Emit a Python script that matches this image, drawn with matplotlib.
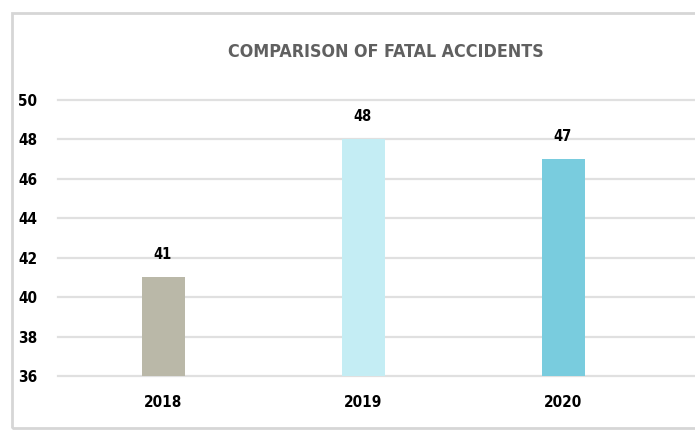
import matplotlib
matplotlib.use("Agg")
import matplotlib.pyplot as plt
from matplotlib.patches import Rectangle

categories = ["2018", "2019", "2020"]
values = [41, 48, 47]
colors = ["#BAB8A8", "#C4EDF4", "#79CCDE"]
yticks = [36, 38, 40, 42, 44, 46, 48, 50]
title = "COMPARISON OF FATAL ACCIDENTS"

plt.rcParams['font.family'] = ["DejaVu Sans"]
plt.rcParams['font.stretch'] = 'condensed'

fig = plt.figure(figsize=(6.95, 4.47), dpi=100)
fig.patch.set_facecolor("white")
fig.patches.append(Rectangle((12/695, 1-428/447), 1.0, (428-13)/447, transform=fig.transFigure,
                             fill=False, edgecolor="#d6d6d6", lw=2.0, zorder=0))
ax = fig.add_axes([58/695, 1-376/447, 1-58/695, 276/447])
x = list(range(len(categories)))
ax.bar(x, [v - 36 for v in values], bottom=36, width=0.215, color=colors, zorder=3)
ax.set_xlim(-0.525, 2.66)
ax.set_ylim(36, 50)
ax.set_yticks(yticks)
ax.set_yticklabels([str(t) for t in yticks], fontsize=11, fontweight="bold")
ax.set_xticks(x)
ax.set_xticklabels(categories, fontsize=11, fontweight="bold")
ax.tick_params(axis="y", length=0, pad=15)
ax.tick_params(axis="x", length=0, pad=14)
ax.grid(axis="y", color="#e0e0e0", lw=1.6, zorder=0)
for gl in ax.get_ygridlines():
    gl.set_clip_on(False)
for s in ax.spines.values():
    s.set_visible(False)
ax.set_facecolor("none")
for xi, v in zip(x, values):
    ax.annotate(str(v), (xi, v), xytext=(0, 16.5), textcoords="offset points",
                ha="center", va="center", fontsize=10.5, fontweight="bold")
fig.text(386/695, 1-52/447, title, ha="center", va="center", fontsize=12.8,
         fontweight="bold", color="#606060")
fig.savefig("out.png", dpi=100)
